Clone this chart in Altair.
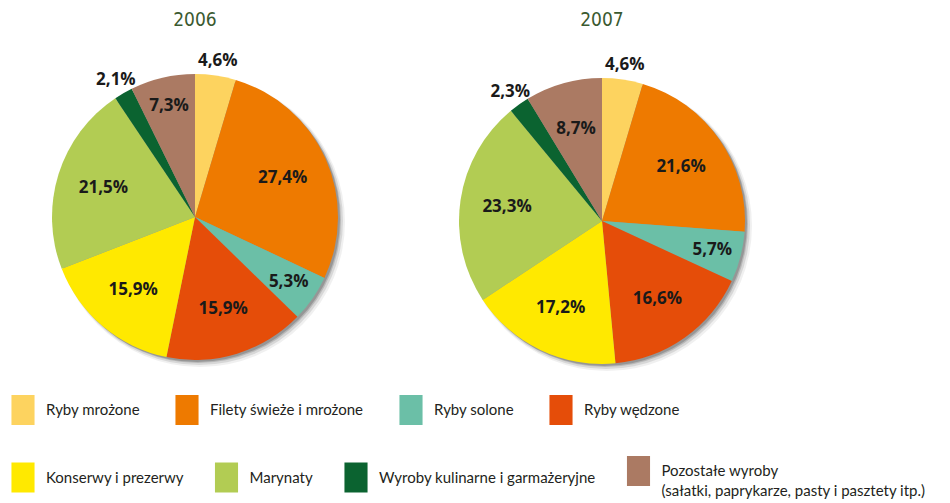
import math
import altair as alt
import pandas as pd

categories = [
    "Ryby mrożone",
    "Filety świeże i mrożone",
    "Ryby solone",
    "Ryby wędzone",
    "Konserwy i prezerwy",
    "Marynaty",
    "Wyroby kulinarne i garmażeryjne",
    "Pozostałe wyroby|(sałatki, paprykarze, pasty i pasztety itp.)",
]
years = [2006, 2007]
share_2006 = [4.6, 27.4, 5.3, 15.9, 15.9, 21.5, 2.1, 7.3]
share_2007 = [4.6, 21.6, 5.7, 16.6, 17.2, 23.3, 2.3, 8.7]
colors = ["#FDD35F", "#EE7A00", "#6BBFA7", "#E54D09",
          "#FFE900", "#B2CC53", "#0B6330", "#AB7A63"]

rows = []
for year, shares in zip(years, [share_2006, share_2007]):
    start = 0.0
    for i, (cat, v) in enumerate(zip(categories, shares)):
        end = start + v
        rows.append({
            "year": year, "category": cat, "order": i, "value": v,
            "start": start, "end": end, "mid": (start + end) / 2,
            "label": f"{v:.1f}".replace(".", ",") + "%",
        })
        start = end
df = pd.DataFrame(rows)
years_df = pd.DataFrame({"year": years, "title": [str(y) for y in years]})

xs = alt.X("year:O", scale=alt.Scale(domain=years, range=[187, 594], padding=0), axis=None)
ys = alt.Y("year:O", scale=alt.Scale(domain=years, range=[209, 213], padding=0), axis=None)
theta_scale = alt.Scale(domain=[0, 100], range=[0, 2 * math.pi])

base = alt.Chart(df)

shadows = []
for off, rad, op in [(5, 145, 0.06), (4, 144, 0.10), (3, 143, 0.14), (2, 143, 0.18)]:
    shadows.append(
        alt.Chart(years_df).mark_arc(radius=rad, xOffset=off, yOffset=off, color="#000000", opacity=op)
        .encode(x=xs, y=ys, theta=alt.value(0), theta2=alt.value(2 * math.pi))
    )


def legend_for(x, y, pad):
    return alt.Legend(
        orient="none", legendX=x, legendY=y, direction="horizontal",
        columns=4, columnPadding=pad,
        symbolType="M-0.77,-1H0.77V1H-0.77Z", symbolSize=900,
        symbolStrokeWidth=0, symbolOpacity=1,
        labelFont="Lato", labelFontSize=15, labelColor="#231F20",
        labelOffset=8, labelLimit=500, labelExpr="split(datum.label, '|')",
        title=None, padding=0,
    )


def arc_layer(lo, hi, legend):
    return base.transform_filter(
        f"datum.order >= {lo} && datum.order < {hi}"
    ).mark_arc(radius=143).encode(
        x=xs, y=ys,
        theta=alt.Theta("start:Q", scale=theta_scale),
        theta2="end:Q",
        color=alt.Color(
            "category:N",
            scale=alt.Scale(domain=categories[lo:hi], range=colors[lo:hi]),
            legend=legend,
        ),
        tooltip=["category:N", "value:Q"],
    )


arcs_a = arc_layer(0, 4, legend_for(0, 387, 32))
arcs_b = arc_layer(4, 8, legend_for(0, 448, 27.5))

labels = base.transform_calculate(
    lr="datum.value < 5 ? 158 : (datum.value < 8 ? 114 : 96)"
).mark_text(font="Open Sans", fontWeight="bold", fontSize=17, color="#1A1A1A").encode(
    x=xs, y=ys,
    theta=alt.Theta("mid:Q", scale=theta_scale),
    radius=alt.Radius("lr:Q", scale=None),
    text="label:N",
)

titles = alt.Chart(years_df).mark_text(
    font="DejaVu Sans Condensed, Roboto, sans-serif", fontSize=19, color="#3B5A30", baseline="middle"
).encode(x=xs, y=alt.value(12), text="title:N")

chart = alt.layer(*shadows, arcs_a, arcs_b, labels, titles).resolve_scale(
    color="independent"
).properties(
    width=934, height=487, padding=0
).configure(
    style={"guide-label": {"lineHeight": 20}}
).configure_view(stroke=None)

chart.save("out.html", embed_options={"renderer": "svg", "actions": False})
